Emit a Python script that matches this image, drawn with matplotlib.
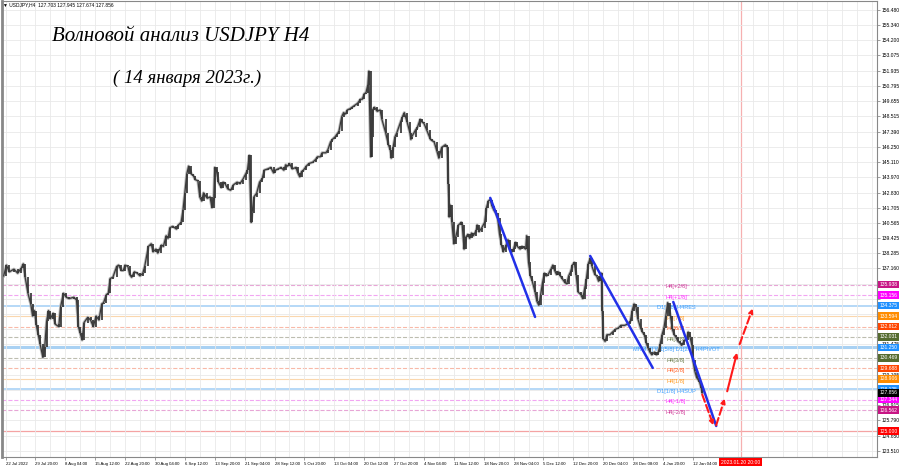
'''
Волновой анализ USDJPY H4 - перерисовка графика MT4
'''
import matplotlib
matplotlib.use('Agg')
import matplotlib.pyplot as plt
from matplotlib.patches import FancyArrowPatch
from matplotlib.transforms import blended_transform_factory

# номер бара H4 от 22 Jul 2022 и цена закрытия
bar = [0, 3, 6, 11, 15, 19, 21, 23, 26, 29, 31, 33, 35, 37, 39, 42, 44, 46, 48, 50,
       53, 55, 59, 61, 64, 67, 70, 75, 78, 80, 82, 84, 86, 90, 93, 96, 99, 102, 105, 107,
       110, 112, 114, 117, 121, 123, 126, 128, 130, 133, 135, 137, 140, 143, 146, 149, 151, 155, 158, 160,
       163, 165, 169, 171, 174, 176, 178, 181, 185, 187, 190, 192, 194, 196, 198, 201, 203, 205, 208, 210,
       212, 214, 218, 221, 223, 225, 226, 228, 230, 233, 235, 237, 240, 243, 246, 250, 253, 256, 259, 261,
       263, 265, 266, 268, 271, 274, 277, 279, 283, 286, 289, 291, 294, 297, 300, 302, 304, 306, 309, 313,
       315, 317, 319, 321, 324, 327, 331, 334, 336, 339, 341, 345, 347, 350, 352, 355, 357, 359, 362, 364,
       366, 368, 371, 373, 375, 379, 382, 384, 386, 388, 390, 391, 393, 394, 395, 397, 400, 403, 405, 409,
       412, 414, 415, 417, 419, 421, 425, 427, 429, 432, 435, 436, 437, 441, 443, 446, 448, 450, 453, 457,
       459, 461, 464, 466, 469, 473, 475, 476, 477, 478, 480, 482, 484, 487, 490, 491, 493, 495, 497, 499,
       501, 503, 506, 507, 509, 512, 515, 517, 519, 521, 523, 525, 527, 529, 531, 533, 535, 538, 540, 542,
       544, 546, 548, 550, 553, 555, 557, 559, 560, 562, 564, 566, 569, 571, 573, 575, 577, 579, 581, 583,
       586, 588, 590, 592, 594, 596, 598, 601, 603, 605, 607, 609, 611, 613, 615, 618, 620, 622, 624, 626,
       628, 630, 633, 635, 637, 639, 640, 641, 642, 644, 646, 649, 652, 655, 658, 661, 665, 668, 671, 673,
       675, 677, 679, 682, 684, 686, 688, 690, 692, 694, 697, 699, 701, 703, 705, 707, 709, 711, 714, 716,
       718, 720, 722, 724, 726, 729, 731, 733, 735, 737, 738, 740, 742, 745, 747, 748]
close = [136.6, 137.4, 136.9, 137.1, 136.8, 137.2, 137.5, 136.5, 135.3, 134.5, 133.6, 134.0, 132.9, 132.2, 131.5, 130.5, 131.3, 133.2, 134.0, 133.4,
         133.8, 133.0, 132.8, 134.3, 135.3, 135.0, 134.9, 135.0, 134.8, 132.8, 132.3, 131.8, 133.1, 133.5, 133.3, 132.8, 133.6, 133.3, 134.5, 134.6,
         135.2, 135.3, 136.4, 136.5, 137.3, 137.4, 137.0, 137.0, 137.4, 137.3, 136.7, 136.5, 136.9, 136.8, 136.6, 136.8, 137.3, 138.8, 139.0, 138.4,
         138.6, 138.3, 138.9, 138.8, 139.6, 139.4, 140.2, 140.3, 140.1, 140.4, 140.6, 141.5, 142.8, 144.2, 144.8, 144.2, 144.1, 143.8, 143.7, 142.5,
         142.2, 142.8, 142.4, 142.5, 141.7, 142.4, 144.7, 144.4, 143.6, 143.2, 143.6, 143.5, 143.1, 143.0, 143.4, 143.6, 143.5, 143.8, 144.2, 144.5,
         145.6, 140.6, 141.3, 142.5, 142.8, 143.6, 143.9, 144.5, 144.6, 144.7, 144.3, 144.5, 144.6, 144.7, 144.5, 144.9, 144.8, 145.0, 144.6, 144.7,
         144.3, 144.0, 144.4, 144.5, 144.8, 145.0, 145.1, 145.3, 145.5, 145.5, 145.8, 145.8, 146.0, 146.6, 146.8, 147.0, 147.2, 147.4, 148.5, 148.8,
         148.7, 149.0, 149.1, 149.2, 149.3, 149.5, 149.8, 149.8, 150.2, 150.3, 150.9, 151.9, 145.5, 147.0, 149.0, 149.2, 148.9, 149.0, 148.3, 147.3,
         146.4, 146.0, 145.4, 146.2, 147.0, 147.3, 148.1, 148.5, 148.8, 148.1, 147.3, 146.8, 147.0, 147.5, 147.7, 148.3, 148.1, 148.0, 147.5, 146.8,
         146.7, 146.6, 145.9, 145.4, 146.2, 146.4, 146.2, 143.5, 141.0, 141.9, 140.6, 139.0, 139.5, 140.4, 140.6, 140.4, 138.6, 139.5, 139.7, 139.4,
         139.8, 139.6, 140.0, 140.4, 139.9, 140.2, 140.6, 141.7, 142.2, 142.3, 141.8, 141.5, 141.3, 140.9, 139.7, 138.9, 138.4, 138.9, 139.3, 138.6,
         138.4, 138.6, 139.1, 138.8, 138.6, 138.8, 138.7, 138.6, 139.6, 137.6, 136.6, 136.2, 135.4, 134.7, 134.4, 135.2, 136.1, 136.8, 136.6, 136.7,
         137.1, 137.4, 137.0, 136.7, 136.9, 136.6, 136.4, 136.1, 136.0, 136.6, 136.9, 137.4, 137.6, 136.7, 135.4, 135.2, 134.9, 135.6, 136.4, 137.5,
         137.9, 137.3, 136.7, 136.6, 136.2, 136.5, 136.8, 134.0, 131.9, 131.7, 132.2, 132.2, 132.4, 132.6, 132.7, 132.9, 132.9, 133.0, 133.2, 134.0,
         134.5, 134.3, 133.4, 132.7, 132.4, 132.2, 131.6, 131.2, 130.9, 130.7, 130.9, 130.7, 130.9, 131.5, 132.2, 132.7, 133.6, 134.6, 133.6, 132.6,
         132.2, 132.0, 131.7, 131.6, 131.4, 131.8, 131.8, 132.4, 132.0, 131.4, 130.3, 129.5, 129.0, 128.7, 128.2, 127.856]

date_labels = ['22 Jul 2022', '29 Jul 20:00', '8 Aug 04:00', '15 Aug 12:00', '22 Aug 20:00', '30 Aug 04:00',
               '6 Sep 12:00', '13 Sep 20:00', '21 Sep 04:00', '28 Sep 12:00', '5 Oct 20:00', '13 Oct 04:00',
               '20 Oct 12:00', '27 Oct 20:00', '4 Nov 04:00', '11 Nov 12:00', '18 Nov 20:00', '28 Nov 04:00',
               '5 Dec 12:00', '12 Dec 20:00', '20 Dec 04:00', '28 Dec 08:00', '4 Jan 20:00', '12 Jan 04:00']
price_ticks = [156.480, 155.340, 154.200, 153.075, 151.935, 150.795, 149.655, 148.515, 147.390, 146.250,
               145.110, 143.970, 142.830, 141.705, 140.565, 139.425, 138.285, 137.160, 136.020, 134.880,
               133.755, 132.615, 131.475, 130.335, 129.195, 128.055, 126.915, 125.790, 124.650, 123.510]
# подписи шкалы, закрытые метками уровней на картинке
price_hidden = [136.020, 134.880, 133.755, 132.615, 130.335, 128.055]

# уровни Мюррея
levels = [135.938, 135.156, 134.375, 133.594, 132.812, 132.031, 131.250,
          130.469, 129.688, 128.906, 128.125, 127.344, 126.562]
level_names = ['H4[+2/8]', 'H4[+1/8]', 'D1[3/8] H4RES', 'H4[7/8]', 'H4[6/8]', 'H4[5/8]',
               'MN[4/8] W1[5/8] D1[2/8] H4PIVOT', 'H4[3/8]', 'H4[2/8]', 'H4[1/8]',
               'D1[1/8] H4SUP', 'H4[-1/8]', 'H4[-2/8]']
target_level = 125.000
last_price = 127.856
future_bar = 789
future_label = '2023.01.20 20:00'

# волновая разметка (бар, цена)
wave1_bar, wave1_price = [521, 569], [142.43, 133.53]
wave2_bar, wave2_price = [628, 695], [138.09, 129.72]
wave3_bar, wave3_price = [717, 763], [134.65, 125.38]
fcst_bar = [747, 761, 762, 773, 774, 786, 787, 803]
fcst_price = [127.92, 125.23, 125.23, 127.62, 127.77, 131.06, 131.29, 134.35]

# стиль для каждого уровня: (цвет линии, цвет текста/метки, стиль, толщина)
level_style = {
    'H4[+2/8]': ('#e7a6d6', '#c71585', '--', 0.8),
    'H4[+1/8]': ('#f2a6f2', '#ff00ff', '--', 0.8),
    'D1[3/8] H4RES': ('#b5d8f7', '#1e90ff', '-', 1.4),
    'H4[7/8]': ('#fad7ae', '#ff8c00', '-', 0.8),
    'H4[6/8]': ('#f8b9a8', '#ff4500', '--', 0.8),
    'H4[5/8]': ('#bdbdb0', '#556b2f', '--', 0.8),
    'MN[4/8] W1[5/8] D1[2/8] H4PIVOT': ('#a9d1f3', '#1e90ff', '-', 2.2),
    'H4[3/8]': ('#bdbdb0', '#556b2f', '--', 0.8),
    'H4[2/8]': ('#f8b9a8', '#ff4500', '--', 0.8),
    'H4[1/8]': ('#fad7ae', '#ff8c00', '-', 0.8),
    'D1[1/8] H4SUP': ('#b5d8f7', '#1e90ff', '-', 1.4),
    'H4[-1/8]': ('#f2a6f2', '#ff00ff', '--', 0.8),
    'H4[-2/8]': ('#e7a6d6', '#c71585', '--', 0.8),
}

SMALL = ['Liberation Sans', 'DejaVu Sans']


def main():
    fig = plt.figure(figsize=(9, 4.68), dpi=100)
    ax = fig.add_axes([0.002, 0.0235, 0.9723, 0.9745])
    ax.set_xlim(-2, 935)
    ax.set_ylim(123.06, 157.15)

    # сетка и оси
    ax.set_xticks(list(range(2, 2 + 32 * len(date_labels), 32)))
    ax.set_xticks(list(range(2, 935, 16)), minor=True)
    ax.set_xticklabels(date_labels, fontsize=3.1, family=SMALL, ha='left')
    ax.set_yticks(price_ticks)
    ax.set_yticklabels(['' if p in price_hidden else '%.3f' % p for p in price_ticks],
                       fontsize=3.6, family=SMALL)
    ax.yaxis.tick_right()
    ax.tick_params(axis='both', which='both', length=2, width=0.5, pad=1.5, color='#777')
    ax.tick_params(axis='x', which='minor', length=0)
    ax.grid(True, which='both', color='#e9e9e9', lw=0.6, zorder=0)
    for s in ax.spines.values():
        s.set_color('#888')
        s.set_linewidth(0.8)
    ax.spines['left'].set_linewidth(2)

    # уровни
    for p, name in zip(levels, level_names):
        lc, tc, ls, lw = level_style[name]
        ax.axhline(p, color=lc, ls=ls, lw=lw, zorder=1)
        ax.text(720, p - 0.17, name, color=tc, alpha=0.85, fontsize=4.1, family=SMALL,
                ha='center', va='center', zorder=2)
    ax.axhline(target_level, color='#f4a3a3', lw=0.9, zorder=1)
    ax.axvline(future_bar, color='#f6b0b0', lw=0.9, zorder=1)

    # свечи
    lo = [min(a, b) for a, b in zip(close[:-1], close[1:])]
    hi = [max(a, b) for a, b in zip(close[:-1], close[1:])]
    ax.plot(bar, close, color='#b8b8b8', lw=2.2, zorder=2.5)
    ax.vlines(bar[1:], lo, hi, color='#1e1e1e', lw=1.1, zorder=3)
    ax.plot(bar, close, color='#3a3a3a', lw=0.9, zorder=3)

    # волны
    for bx, py in [(wave1_bar, wave1_price), (wave2_bar, wave2_price), (wave3_bar, wave3_price)]:
        ax.plot(bx, py, color='#2230e8', lw=1.8, zorder=4, solid_capstyle='round')
    styles = ['--', '--', '-', '--']
    for k in range(4):
        arr = FancyArrowPatch((fcst_bar[2 * k], fcst_price[2 * k]),
                              (fcst_bar[2 * k + 1], fcst_price[2 * k + 1]),
                              arrowstyle='-|>', mutation_scale=6, color='#ff1a1a',
                              lw=1.5, linestyle=styles[k], zorder=5)
        ax.add_patch(arr)

    # метки цен справа
    tr = blended_transform_factory(ax.transAxes, ax.transData)
    box_prices = levels + [last_price, target_level]
    box_colors = [level_style[n][1] for n in level_names] + ['#000000', '#ff0000']
    for p, c in zip(box_prices, box_colors):
        ax.text(1.003, p, '%.3f' % p, transform=tr, color='white', fontsize=3.6, family=SMALL,
                ha='left', va='center', zorder=10, clip_on=False,
                bbox=dict(boxstyle='square,pad=0.25', fc=c, ec='none'))

    trx = blended_transform_factory(ax.transData, ax.transAxes)
    ax.text(future_bar, -0.006, future_label, transform=trx, color='white', fontsize=3.6,
            family=SMALL, ha='center', va='top', clip_on=False, zorder=10,
            bbox=dict(boxstyle='square,pad=0.3', fc='#ff0000', ec='none'))

    # заголовки
    fig.text(0.003, 0.989, '\u25bc USDJPY,H4  127.703 127.945 127.674 127.856', fontsize=3.5,
             family=SMALL, va='center', ha='left')
    fig.text(0.058, 0.921, 'Волновой анализ USDJPY H4', fontsize=15, style='italic',
             family=['Liberation Serif', 'DejaVu Serif'], va='center', ha='left')
    fig.text(0.126, 0.833, '( 14 января 2023г.)', fontsize=13.5, style='italic',
             family=['Liberation Serif', 'DejaVu Serif'], va='center', ha='left')

    fig.savefig('out.png', dpi=100)


if __name__ == '__main__':
    main()
